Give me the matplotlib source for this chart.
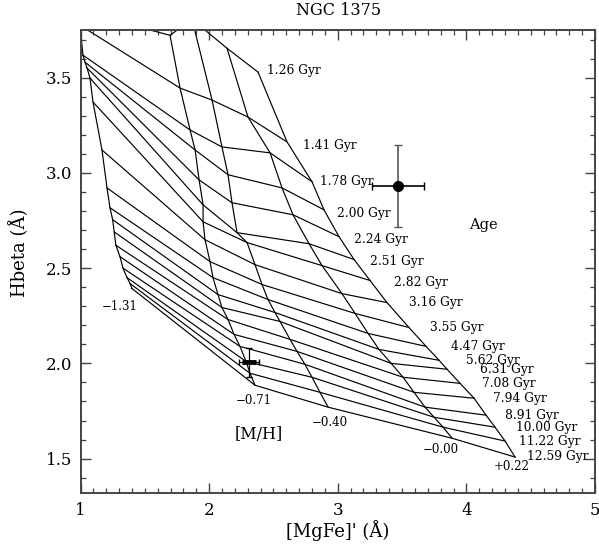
import numpy as np
import matplotlib
matplotlib.use('Agg')
import matplotlib.pyplot as plt
from matplotlib.ticker import MultipleLocator

plt.rcParams['font.family'] = ['DejaVu Serif']

# model ages (Gyr) and metallicities [M/H]
ages = ['1.26', '1.41', '1.78', '2.00', '2.24', '2.51', '2.82', '3.16', '3.55',
        '4.47', '5.62', '6.31', '7.08', '7.94', '8.91', '10.00', '11.22', '12.59']
metals = ['\u22121.31', '\u22120.71', '\u22120.40', '\u22120.00', '+0.22']

# [MgFe]' and Hbeta of the model grid, one pair per metallicity (young -> old)
mgfe_m131 = [0.965, 0.996, 1.019, 1.035, 1.051, 1.074, 1.097, 1.167, 1.206,
             1.229, 1.250, 1.262, 1.275, 1.307, 1.330, 1.362, 1.385, 1.400]
hbeta_m131 = [3.853, 3.775, 3.618, 3.581, 3.550, 3.497, 3.372, 3.120, 2.921,
              2.817, 2.754, 2.690, 2.620, 2.560, 2.500, 2.450, 2.419, 2.393]

mgfe_m071 = [1.696, 1.774, 1.852, 1.891, 1.922, 1.953, 1.953, 1.968, 2.007,
             2.030, 2.069, 2.100, 2.147, 2.194, 2.240, 2.287, 2.318, 2.357]
hbeta_m071 = [3.722, 3.445, 3.225, 3.120, 2.963, 2.832, 2.743, 2.649, 2.534,
              2.450, 2.361, 2.293, 2.230, 2.152, 2.089, 2.010, 1.948, 1.885]

mgfe_m040 = [1.867, 2.023, 2.100, 2.147, 2.178, 2.217, 2.295, 2.357, 2.411,
             2.458, 2.512, 2.551, 2.629, 2.683, 2.745, 2.800, 2.862, 2.925]
hbeta_m040 = [3.806, 3.382, 3.136, 2.990, 2.843, 2.686, 2.634, 2.518, 2.414,
              2.335, 2.267, 2.220, 2.126, 2.063, 1.995, 1.927, 1.848, 1.770]

mgfe_p000 = [2.139, 2.302, 2.474, 2.567, 2.652, 2.777, 2.878, 3.033, 3.135,
             3.236, 3.321, 3.415, 3.508, 3.593, 3.679, 3.749, 3.819, 3.889]
hbeta_p000 = [3.654, 3.293, 3.105, 2.921, 2.780, 2.628, 2.513, 2.366, 2.262,
              2.157, 2.073, 2.000, 1.927, 1.848, 1.770, 1.717, 1.665, 1.607]

mgfe_p022 = [2.380, 2.606, 2.800, 2.893, 3.010, 3.127, 3.251, 3.383, 3.554,
             3.687, 3.788, 3.850, 3.951, 4.060, 4.153, 4.223, 4.301, 4.379]
hbeta_p022 = [3.529, 3.162, 2.953, 2.806, 2.665, 2.545, 2.435, 2.319, 2.188,
              2.089, 2.016, 1.969, 1.895, 1.817, 1.728, 1.665, 1.592, 1.508]

mgfe_grid = np.array([mgfe_m131, mgfe_m071, mgfe_m040, mgfe_p000, mgfe_p022])
hbeta_grid = np.array([hbeta_m131, hbeta_m071, hbeta_m040, hbeta_p000, hbeta_p022])

# NGC 1375 measurements
gal_mgfe = [3.469, 2.310]
gal_hbeta = [2.932, 2.007]
gal_mgfe_err = [0.205, 0.078]
gal_hbeta_err = [0.215, 0.076]

# label anchors
age_lab_x = [2.448, 2.728, 2.862, 2.992, 3.127, 3.251, 3.438, 3.554, 3.718,
             3.880, 3.998, 4.107, 4.122, 4.208, 4.301, 4.383, 4.410, 4.472]
age_lab_y = [3.539, 3.141, 2.954, 2.789, 2.649, 2.537, 2.424, 2.319, 2.188,
             2.089, 2.016, 1.969, 1.895, 1.817, 1.728, 1.665, 1.592, 1.513]
met_lab_x = [1.305, 2.347, 2.939, 3.802, 4.355]
met_lab_y = [2.300, 1.803, 1.688, 1.548, 1.456]

fig = plt.figure(figsize=(5.99, 5.46), dpi=100)
ax = fig.add_axes([0.1344, 0.0962, 0.8589, 0.8489])

# iso-metallicity lines
for k in range(len(metals)):
    ax.plot(mgfe_grid[k], hbeta_grid[k], color='black', lw=0.85)
# iso-age lines
for i in range(len(ages)):
    ax.plot(mgfe_grid[:, i], hbeta_grid[:, i], color='black', lw=0.85)

for i, a in enumerate(ages):
    ax.text(age_lab_x[i], age_lab_y[i], a + ' Gyr', fontsize=8.8,
            ha='left', va='center')
for k, m in enumerate(metals):
    ax.text(met_lab_x[k], met_lab_y[k], m, fontsize=8.5, ha='center', va='center')

ax.text(4.133, 2.728, 'Age', fontsize=10.5, ha='center', va='center')
ax.text(2.388, 1.628, '[M/H]', fontsize=11.5, ha='center', va='center')

# galaxy points
ax.errorbar(gal_mgfe[0], gal_hbeta[0], yerr=gal_hbeta_err[0], fmt='none',
            ecolor='#555555', elinewidth=1.2, capsize=3)
ax.errorbar(gal_mgfe[0], gal_hbeta[0], xerr=gal_mgfe_err[0], fmt='none',
            ecolor='black', elinewidth=1.2, capsize=3)
ax.plot(gal_mgfe[0], gal_hbeta[0], 'o', color='black', ms=7)
ax.errorbar(gal_mgfe[1], gal_hbeta[1], xerr=gal_mgfe_err[1], yerr=gal_hbeta_err[1],
            fmt='none', ecolor='black', elinewidth=0.9, capsize=2)
ax.plot(gal_mgfe[1], gal_hbeta[1], '_', color='black', ms=10, mew=3.5)

ax.set_xlim(1, 5)
ax.set_ylim(1.317, 3.750)
ax.xaxis.set_minor_locator(MultipleLocator(0.1))
ax.yaxis.set_minor_locator(MultipleLocator(0.1))
ax.set_xticks([1, 2, 3, 4, 5])
ax.set_xticklabels(['1', '2', '3', '4', '5'])
ax.set_yticks([1.5, 2.0, 2.5, 3.0, 3.5])
ax.set_yticklabels(['1.5', '2.0', '2.5', '3.0', '3.5'])
ax.tick_params(which='both', direction='in', top=True, right=True,
               color='#444444', labelsize=12)
ax.tick_params(which='major', length=7, width=1.0)
ax.tick_params(which='minor', length=3.6, width=0.9)
ax.tick_params(axis='x', pad=6)
ax.tick_params(axis='y', pad=6)
for s in ax.spines.values():
    s.set_color('#444444')
    s.set_linewidth(1.4)

ax.set_xlabel("[MgFe]' (\u00c5)", fontsize=13)
ax.set_ylabel('Hbeta (\u00c5)', fontsize=13)
ax.yaxis.set_label_coords(-0.10, 0.52)
ax.xaxis.set_label_coords(0.5, -0.058)
fig.text(0.565, 0.981, 'NGC 1375', fontsize=11.5, ha='center', va='center')

fig.savefig('out.png', dpi=100)
